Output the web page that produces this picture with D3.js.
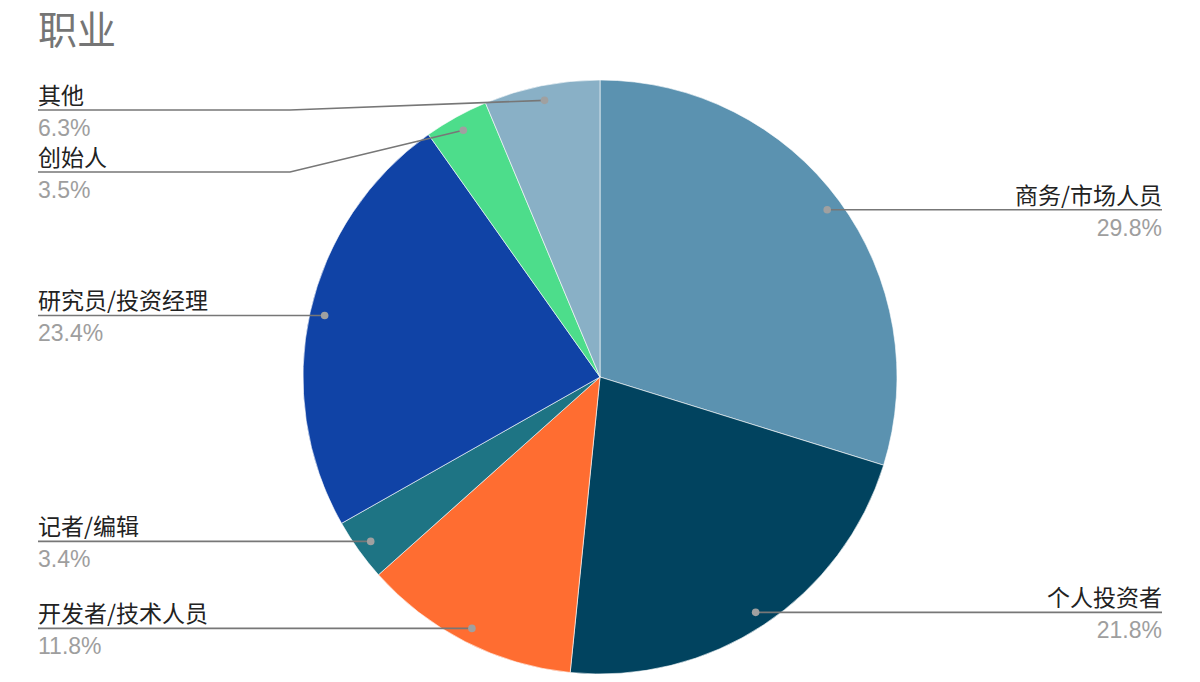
<!DOCTYPE html>
<html><head><meta charset="utf-8">
<script src="https://cdn.jsdelivr.net/npm/d3@7"></script>
<style>
html,body{margin:0;padding:0;background:#fff;}
svg{display:block;}
text{font-family:"Noto Sans CJK SC","Noto Sans",Roboto,sans-serif;}
</style></head>
<body>
<svg id="chart" width="1200" height="682"></svg>
<script>
const title = "职业";
const categories = ["商务/市场人员","个人投资者","开发者/技术人员","记者/编辑","研究员/投资经理","创始人","其他"];
const values = [29.8, 21.8, 11.8, 3.4, 23.4, 3.5, 6.3];
const colors = ["#5b92b0","#01435f","#ff6d31","#1e7484","#1043a6","#4ddd8b","#89b0c6"];

const W = 1200, H = 682;
const cx = 600, cy = 377, R = 297;
const svg = d3.select("#chart");

svg.append("text").attr("x", 38).attr("y", 44)
  .attr("font-size", 39).attr("fill", "#757575").text(title);

const data = categories.map((c,i)=>({name:c, value:values[i], color:colors[i]}));
const pie = d3.pie().sort(null).value(d=>d.value);
const arcs = pie(data);
const arc = d3.arc().innerRadius(0).outerRadius(R);
const dotArc = d3.arc().innerRadius(R*0.95).outerRadius(R*0.95);

const g = svg.append("g").attr("transform", `translate(${cx},${cy})`);
g.selectAll("path").data(arcs).join("path")
  .attr("d", arc).attr("fill", d=>d.data.color)
  .attr("stroke", "#ffffff").attr("stroke-width", 0.6);

// label layout
const items = arcs.map(a=>{
  const [x,y] = dotArc.centroid(a);
  const mid = (a.startAngle + a.endAngle)/2;
  return {a, dx: cx + x, dy: cy + y, right: mid < Math.PI};
});
const minY = 110, gap = 62;
["left","right"].forEach(side=>{
  const list = items.filter(d=> (side==="right") === d.right).sort((p,q)=>p.dy-q.dy);
  let last = -Infinity;
  list.forEach(d=>{
    let y = Math.max(d.dy, minY, last + gap);
    d.ly = y; last = y;
  });
});

const nameFs = 23, pctFs = 23;
const lg = svg.append("g");
items.forEach(d=>{
  const pct = d.a.data.value.toFixed(1) + "%";
  const right = d.right;
  const xText = right ? 1162 : 38;
  let pts;
  if (right) {
    pts = [[d.dx,d.dy]];
    if (Math.abs(d.ly - d.dy) > 0.5) pts.push([910, d.ly]);
    pts.push([xText, d.ly]);
  } else {
    pts = [[xText, d.ly]];
    if (Math.abs(d.ly - d.dy) > 0.5) pts.push([290, d.ly]);
    pts.push([d.dx, d.dy]);
  }
  lg.append("path").attr("d", d3.line()(pts)).attr("fill","none")
    .attr("stroke","#777").attr("stroke-width",1.6);
  lg.append("text").attr("x", xText).attr("y", d.ly - 6)
    .attr("text-anchor", right ? "end" : "start")
    .attr("font-size", nameFs).attr("fill","#222").text(d.a.data.name);
  lg.append("text").attr("x", xText).attr("y", d.ly + 26)
    .attr("text-anchor", right ? "end" : "start")
    .attr("font-size", pctFs).attr("fill","#9e9e9e")
    .style("font-family","'Liberation Sans',Arial,sans-serif").text(pct);
  lg.append("circle").attr("cx", d.dx).attr("cy", d.dy).attr("r", 3.8).attr("fill","#a0a0a0");
});
</script>
</body></html>
